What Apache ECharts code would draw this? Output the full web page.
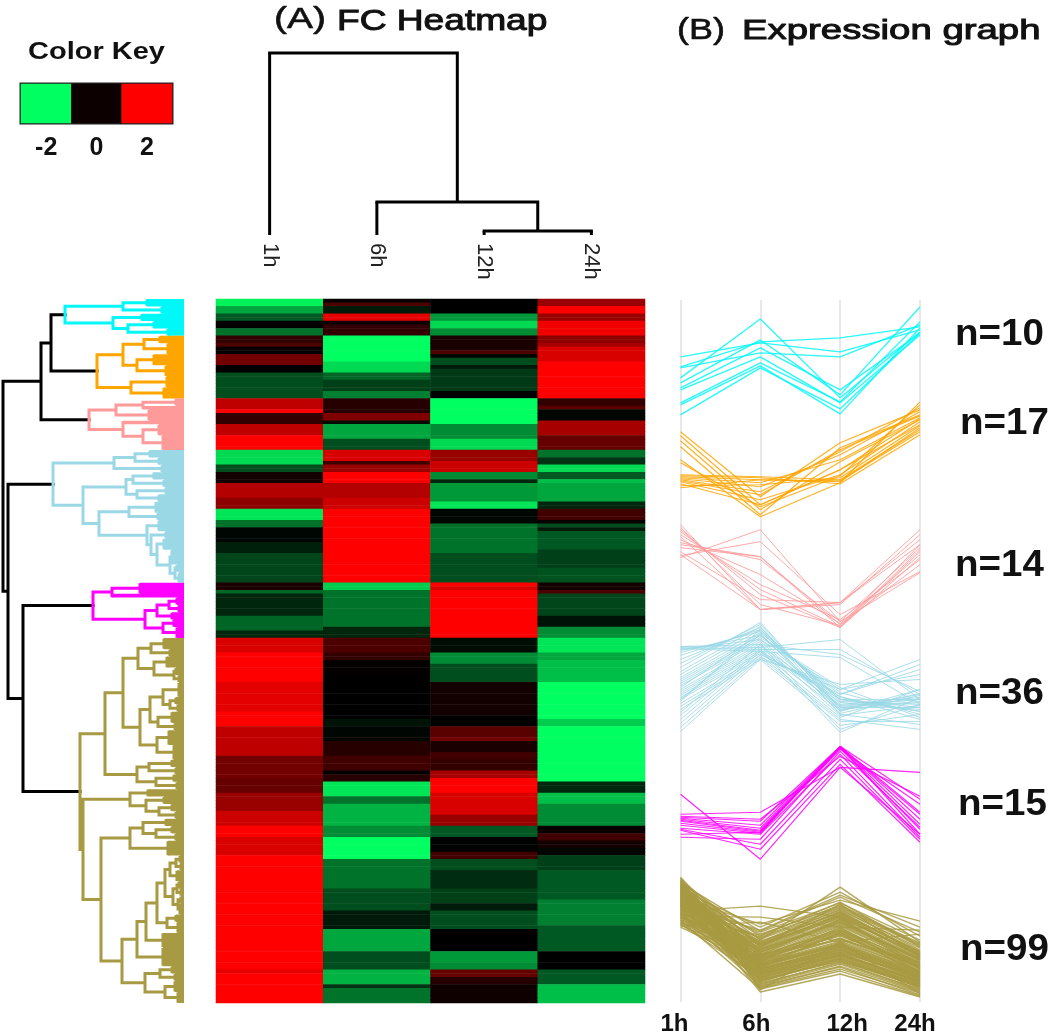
<!DOCTYPE html>
<html>
<head>
<meta charset="utf-8">
<title>FC Heatmap</title>
<script src="https://cdn.jsdelivr.net/npm/echarts@6/dist/echarts.min.js"></script>
<style>
    html, body { margin: 0; padding: 0; background: #fff; }
    #chart { width: 1050px; height: 1036px; }
</style>
</head>
<body>
<div id="chart"></div>
<script>
var timePoints = ['1h', '6h', '12h', '24h'];
var keyTicks = ['-2', '0', '2'];
var keyValues = [-2, 0.1, 2];
var clusterSizes = [10, 17, 14, 36, 15, 99];
var clusterColours = ['#00f8f8', '#ffa500', '#ff9a9a', '#9bd8e6', '#ff00ff', '#a89a42'];

// heatmap columns, top to bottom: [number of rows, log fold change]
var heat1h = [
    [2, -1.9], [2, -1.3], [2, -0.7], [2, 0], [2, -0.9],
    [2, 0.4], [1, 0.6], [2, 0.05], [3, 0.9], [2, 0], [7, -0.6],
    [3, 1.5], [1, 2], [3, 0.4], [3, 1.5], [4, 2],
    [4, -1.7], [2, -0.6], [3, 0.15], [4, 1.4], [3, 1.1], [3, -1.8], [2, -0.9], [4, -0.05], [3, -0.25], [8, -0.55],
    [2, 0.2], [1, -0.8], [6, -0.3], [4, -0.8], [2, -0.3],
    [4, 1.7], [8, 2], [8, 1.8], [4, 2], [8, 1.5], [6, 0.9], [4, 0.8], [5, 1.2], [4, 1.6], [3, 2], [5, 1.7], [31, 2], [1, 1.8], [8, 2]
];
var heat6h = [
    [1, 0.05], [1, 0.6], [2, -0.2], [2, 1.8], [1, 0.1], [3, 0.4],
    [7, -2], [3, -1.7], [2, -0.8], [3, -0.5], [2, -1],
    [4, 0.3], [2, 1], [1, -0.1], [4, -1.3], [3, -0.6],
    [3, 1.7], [1, 0.5], [2, 1.2], [3, 2], [4, 1.4], [3, 1.6], [20, 2],
    [2, -1.6], [10, -0.9], [3, -0.3],
    [4, 0.6], [2, 0.4], [4, 0.03], [12, 0], [2, -0.15], [4, -0.05], [4, 0.3], [4, 0.5], [1, 0], [2, 0.3],
    [4, -1.8], [2, -0.9], [6, -1.4], [3, -1.1], [6, -2], [8, -0.9], [6, -0.6], [5, -0.2], [6, -1.3], [5, -0.6], [4, -1.4], [1, -0.4], [4, -0.9]
];
var heat12h = [
    [4, 0], [2, -1.2], [2, -1.7], [2, -1.1],
    [4, 0.2], [1, 0.6], [1, -0.05], [2, -0.6], [1, -0.2], [6, -0.45], [2, -0.02],
    [7, -2], [4, -1.1], [3, -1.7],
    [3, 1.2], [3, 1.6], [2, -1.1], [1, -0.3], [5, -1.2], [2, -1.8], [4, -0.05], [8, -0.9], [8, -0.6],
    [1, 2], [1, 1.7], [13, 2],
    [4, -0.1], [3, -1.1], [5, -0.6], [9, 0.15], [3, 0], [3, 0.7], [1, 0.9], [3, 0.2], [2, 0.5], [3, 0.4], [2, 1.3], [4, 2], [6, 1.7], [3, 1.2],
    [3, -0.7], [4, -0.02], [2, 0.5], [3, -0.6], [5, -0.35], [4, -0.5], [2, -0.2], [5, -0.6], [6, 0], [3, -1.2], [2, -1.1], [2, 0.8], [2, 0.3], [5, 0.12]
];
var heat24h = [
    [2, 1.2], [2, 2], [2, 1.2], [4, 1.9],
    [2, 1.1], [1, 1.3], [4, 1.7], [10, 2],
    [2, 0.4], [1, 0.7], [3, -0.05], [4, 1.3], [4, 0.8],
    [2, -0.9], [2, -0.4], [2, -1.7], [2, -0.7], [1, -1.5], [5, -1.3], [2, -0.3], [3, 0.5], [1, 0.05], [1, -0.6], [1, -0.2], [5, -0.7], [5, -0.5], [4, -0.65],
    [2, 0.15], [1, 0.6], [6, -0.55], [3, -0.15], [3, -1.1],
    [4, -1.8], [2, -1.3], [6, -1.5], [10, -2], [2, -1.6], [15, -2], [3, -0.3], [3, -1.5], [6, -1.1], [2, 0.05], [2, 0.5], [2, 0.15], [2, -0.05],
    [4, -0.5], [8, -0.7], [7, -1], [7, -0.7], [5, 0], [4, -0.7], [5, -1.5]
];

// dendrograms: [height, child, child], [height, n] is a clump of n leaves, 1 is one leaf
var columnTree = [182, 1, [33, 1, [4, 1, 1]]];
var cyanTree = [119, [61, [37, 2], [22, 2]], [71, [42, 2], [56, [30, 2], [16, 2]]]];
var orangeTree = [87, [61, [40, [24, 2], [16, 3]], [47, [30, 3], [18, 3]]], [53, [17, 3], [20, 3]]];
var pinkTree = [95, [68, [41, [8, 2], 1], [35, 3]], [61, 1, [41, [25, 3], [21, 4]]]];
var blueTree = [131,
    [70, [49, [34, 2], [25, 2]], [22, 2]],
    [101,
        [58, [51, [30, 2], [20, 2]], [47, [18, 2], [25, 2]]],
        [85,
            [55, [28, 3], [26, 2]],
            [37, [25, 3], [33, [18, 2], [27, [20, 3], [14, [12, 4], [9, [7, 2], [5, [4, 2], 1]]]]]]
        ]
    ]
];
var magentaTree = [91, [72, [44, 3], 1], [39, [27, [15, [7, 2], [5, 2]], [12, 2]], [21, [10, 2], [7, 3]]]];
var oliveTree = [104,
    [79,
        [61,
            [46, [33, [20, 3], [14, 2]], [30, [17, 3], [10, [8, 2], [5, 2]]]],
            [44,
                [34, [21, [5, 4], [14, [8, 2], [6, 2]]], [26, [12, 3], [9, 2]]],
                [27, [15, 4], [10, 4]]
            ]
        ],
        [47, [35, [12, 2], [8, 2]], [28, [10, 2], [7, 2]]]
    ],
    [101,
        [54, [36, 2], [38, [20, 2], [25, [12, 2], [8, 2]]]],
        [83,
            [54, [41, [18, 2], [28, [12, 2], [8, 2]]], [16, 4]],
            [62,
                [47,
                    [38,
                        [27,
                            [19, [14, [8, [4, 2], [3, 2]], [7, 3]], [11, [7, [5, 2], [3, 2]], [6, [3, 2], [4, 3]]]],
                            [17, [8, 2], [6, 3]]
                        ],
                        [21, 4]
                    ],
                    [21, 5]
                ],
                [39, [24, [12, 2], [9, 2]], [19, [9, 3], [6, 3]]]
            ]
        ]
    ]
];
var clusterTrees = [cyanTree, orangeTree, pinkTree, blueTree, magentaTree, oliveTree];
var rowTree = [181, [143, [133, cyanTree, orangeTree], pinkTree], [176, blueTree, [161, magentaTree, oliveTree]]];

// expression levels per cluster: one list per time point, one entry per gene
var cyanLevels = [
    [646, 636, 635, 625, 620, 615, 613, 600, 598, 588],
    [660, 661, 650, 684, 663, 655, 646, 640, 637, 635],
    [651, 665, 646, 605, 608, 613, 600, 601, 589, 594],
    [673, 676, 678, 671, 696, 670, 668, 681, 675, 670]
];
var orangeLevels = [
    [571, 567, 562, 556, 543, 540, 528, 527, 526, 525, 524, 523, 522, 521, 519, 517, 515],
    [506, 498, 493, 488, 486, 496, 526, 525, 523, 520, 516, 511, 508, 503, 498, 518, 523],
    [560, 533, 541, 555, 520, 527, 523, 519, 521, 543, 548, 551, 553, 528, 533, 525, 522],
    [593, 578, 583, 588, 601, 598, 573, 568, 575, 585, 591, 595, 587, 581, 584, 577, 571]
];
var pinkLevels = [
    [478, 475, 473, 471, 468, 466, 463, 460, 458, 455, 451, 447, 445, 448],
    [393, 398, 408, 413, 418, 393, 428, 443, 446, 446, 403, 461, 473, 393],
    [400, 377, 375, 376, 383, 400, 379, 381, 378, 375, 400, 388, 381, 398],
    [473, 458, 451, 453, 443, 463, 448, 455, 438, 445, 458, 431, 430, 468]
];
var blueLevels = [
    [356, 356, 355, 354, 353, 352, 350, 347, 343, 339, 335, 331, 328, 325, 323, 321, 319, 317,
     315, 313, 311, 309, 307, 305, 303, 301, 299, 296, 293, 290, 287, 283, 279, 275, 271, 303],
    [358, 355, 353, 351, 363, 367, 371, 373, 375, 378, 380, 376, 373, 370, 367, 365, 363, 361,
     369, 359, 357, 355, 353, 351, 349, 373, 347, 345, 343, 358, 353, 351, 348, 345, 343, 368],
    [348, 363, 353, 345, 313, 308, 303, 301, 298, 295, 293, 291, 303, 305, 310, 315, 297, 293,
     289, 287, 300, 296, 292, 303, 306, 288, 283, 281, 277, 273, 270, 285, 308, 313, 318, 295],
    [311, 303, 308, 298, 343, 333, 303, 298, 305, 301, 308, 313, 295, 291, 288, 285, 303, 300,
     307, 297, 293, 303, 309, 291, 283, 278, 273, 281, 288, 298, 305, 313, 338, 328, 323, 295]
];
var magentaLevels = [
    [208, 188, 186, 185, 184, 183, 182, 181, 179, 177, 174, 173, 172, 168, 165],
    [143, 190, 183, 181, 177, 174, 172, 171, 170, 169, 168, 158, 153, 170, 163],
    [235, 235, 246, 256, 256, 256, 255, 254, 255, 256, 248, 243, 238, 253, 251],
    [168, 230, 206, 203, 190, 183, 178, 173, 188, 168, 165, 163, 160, 198, 175]
];
var oliveLevels = [
    [125, 124, 123, 122, 122, 121, 120, 120, 119, 119,
     118, 118, 117, 117, 116, 116, 115, 115, 115, 114,
     114, 113, 113, 112, 112, 112, 111, 111, 110, 110,
     110, 109, 109, 108, 108, 108, 107, 107, 106, 106,
     105, 105, 105, 104, 104, 103, 103, 103, 102, 102,
     101, 101, 100, 100, 100, 99, 99, 98, 98, 97,
     97, 97, 96, 96, 95, 95, 94, 94, 93, 93,
     92, 92, 91, 91, 90, 90, 89, 89, 88, 88,
     87, 87, 86, 86, 85, 85, 84, 84, 83, 82,
     82, 81, 80, 79, 79, 78, 77, 76, 75],
    [40, 12, 55, 30, 47, 62, 20, 35, 71, 44,
     28, 58, 37, 15, 50, 66, 33, 42, 25, 60,
     48, 18, 38, 75, 52, 31, 45, 22, 57, 36,
     68, 41, 27, 53, 10, 46, 34, 63, 29, 49,
     39, 17, 56, 32, 78, 43, 24, 59, 37, 70,
     21, 51, 35, 64, 26, 47, 14, 54, 40, 30,
     61, 23, 44, 72, 33, 50, 19, 57, 38, 28,
     65, 42, 96, 34, 48, 25, 55, 31, 16, 60,
     36, 45, 85, 27, 52, 41, 22, 67, 39, 13,
     53, 33, 46, 29, 58, 24, 43, 80, 37],
    [75, 60, 98, 52, 83, 115, 44, 70, 105, 66,
     48, 90, 58, 36, 78, 100, 55, 72, 46, 93,
     62, 40, 68, 110, 80, 50, 74, 43, 88, 57,
     96, 64, 47, 85, 28, 76, 53, 92, 49, 81,
     61, 38, 87, 54, 102, 69, 45, 91, 59, 99,
     42, 79, 56, 94, 47, 73, 33, 86, 63, 51,
     89, 41, 71, 107, 55, 82, 39, 84, 60, 48,
     95, 67, 85, 52, 77, 44, 88, 53, 35, 90,
     57, 70, 75, 46, 83, 64, 41, 97, 58, 31,
     80, 50, 72, 49, 86, 43, 68, 60, 56],
    [30, 8, 45, 22, 38, 60, 14, 28, 70, 36,
     20, 48, 26, 10, 42, 55, 25, 34, 18, 52,
     40, 12, 30, 66, 44, 24, 37, 16, 50, 28,
     58, 33, 21, 46, 5, 39, 27, 54, 19, 41,
     32, 11, 47, 23, 81, 35, 17, 49, 29, 62,
     15, 43, 26, 56, 20, 38, 9, 45, 31, 24,
     51, 16, 36, 75, 27, 42, 13, 48, 30, 22,
     57, 34, 33, 25, 40, 18, 46, 23, 7, 50,
     29, 37, 72, 20, 44, 35, 15, 59, 31, 6,
     43, 26, 39, 21, 47, 17, 34, 68, 28]
];
var clusterLevels = [cyanLevels, orangeLevels, pinkLevels, blueLevels, magentaLevels, oliveLevels];

var FONT = '"Liberation Sans", Arial, sans-serif';
var rowCount = 191;

/**
 * 把一个树节点拆成线段，branches 和 leaves 按颜色存放
 */
function walkTree(node, start, colour, segs) {
    if (node === 1) {
        return {pos: start + 0.5, h: 0, end: start + 1, leaf: true};
    }
    var idx = clusterTrees.indexOf(node);
    if (idx >= 0) {
        colour = clusterColours[idx];
    }
    if (!segs.branches[colour]) {
        segs.branches[colour] = [];
        segs.leaves[colour] = [];
    }
    var branches = segs.branches[colour];
    var leaves = segs.leaves[colour];
    var h = node[0];
    if (node.length === 2) {
        var k = node[1];
        branches.push([h, start + 0.5], [h, start + k - 0.5], [null, null]);
        for (var i = 0; i < k; i++) {
            leaves.push([h, start + i + 0.5], [0, start + i + 0.5], [null, null]);
        }
        return {pos: start + k / 2, h: h, end: start + k};
    }
    var a = walkTree(node[1], start, colour, segs);
    var b = walkTree(node[2], a.end, colour, segs);
    branches.push([h, a.pos], [h, b.pos], [null, null]);
    [a, b].forEach(function (c) {
        (c.leaf ? leaves : branches).push([h, c.pos], [c.h, c.pos], [null, null]);
    });
    return {pos: (a.pos + b.pos) / 2, h: h, end: b.end};
}

function treeSeries(tree, xAxisIndex, yAxisIndex, flip, leafWidth) {
    var segs = {branches: {}, leaves: {}};
    var list = [];
    walkTree(tree, 0, '#000000', segs);
    function add(data, colour, width, cap) {
        if (!data.length) {
            return;
        }
        list.push({
            type: 'line',
            xAxisIndex: xAxisIndex,
            yAxisIndex: yAxisIndex,
            showSymbol: false,
            silent: true,
            clip: false,
            data: flip ? data.map(function (p) { return [p[1], p[0]]; }) : data,
            lineStyle: {color: colour, width: width, cap: cap, join: 'miter'}
        });
    }
    Object.keys(segs.leaves).forEach(function (colour) {
        add(segs.leaves[colour], colour, leafWidth, 'butt');
    });
    Object.keys(segs.branches).forEach(function (colour) {
        add(segs.branches[colour], colour, 3, 'square');
    });
    return list;
}

function expandBands(bands) {
    var out = [];
    bands.forEach(function (b) {
        for (var i = 0; i < b[0]; i++) {
            out.push(b[1]);
        }
    });
    return out;
}

// 热图数据
var heatData = [];
[heat1h, heat6h, heat12h, heat24h].forEach(function (bands, col) {
    expandBands(bands).forEach(function (v, row) {
        heatData.push([col, row, v]);
    });
});
var rowNames = [];
for (var r = 0; r < rowCount; r++) {
    rowNames.push(String(r));
}

var series = [
    {
        type: 'heatmap',
        xAxisIndex: 0,
        yAxisIndex: 0,
        silent: true,
        data: keyValues.map(function (v, i) { return [i, 0, v]; })
    },
    {
        type: 'heatmap',
        xAxisIndex: 3,
        yAxisIndex: 2,
        silent: true,
        data: heatData
    }
];
series = series.concat(treeSeries(columnTree, 1, 1, true, 3));
series = series.concat(treeSeries(rowTree, 4, 3, false, 3.7));

// 表达量折线，每个基因一条
var clusterLineWidths = [1.3, 1.2, 1, 1, 1.2, 1.4];
clusterLevels.forEach(function (levels, c) {
    for (var g = 0; g < clusterSizes[c]; g++) {
        series.push({
            type: 'line',
            xAxisIndex: 5,
            yAxisIndex: 4,
            showSymbol: false,
            silent: true,
            data: levels.map(function (col) { return col[g]; }),
            lineStyle: {color: clusterColours[c], width: clusterLineWidths[c], opacity: 0.85}
        });
    }
});

function headingText(text, x, y, size, weight, scaleX, strokeWidth) {
    return {
        type: 'text',
        x: x,
        y: y,
        scaleX: scaleX,
        silent: true,
        style: {
            text: text,
            font: weight + ' ' + size + 'px ' + FONT,
            fill: '#111',
            stroke: strokeWidth ? '#111' : null,
            lineWidth: strokeWidth || 0,
            verticalAlign: 'middle'
        }
    };
}

var countLabelPos = [[955, 335], [960, 424], [955, 566], [955, 694], [958, 805], [960, 950]];

var graphics = [
    headingText('(A)', 274, 20, 30, 'normal', 1.3, 0.6),
    headingText('FC Heatmap', 337, 22, 29, 'normal', 1.28, 1),
    headingText('(B)', 677, 31, 30, 'normal', 1.2, 0.6),
    headingText('Expression graph', 742, 31, 28, 'normal', 1.37, 1),
    headingText('Color Key', 28, 53, 23, 'bold', 1.26, 0)
];
clusterSizes.forEach(function (n, i) {
    graphics.push(headingText('n=' + n, countLabelPos[i][0], countLabelPos[i][1], 36, 'bold', 1.07, 0));
});

// 下方时间标签相对刻度略有偏移
var timeLabelPadding = [[0, 12, 0, 0], [0, 8, 0, 0], [0, 0, 0, 14], [0, 10, 0, 0]];
var hidden = {show: false};

var option = {
    backgroundColor: '#fff',
    animation: false,
    textStyle: {fontFamily: FONT},
    graphic: graphics,
    visualMap: {
        type: 'continuous',
        show: false,
        seriesIndex: [0, 1],
        dimension: 2,
        min: -2,
        max: 2,
        inRange: {color: ['#00ff60', '#000000', '#ff0000']}
    },
    grid: [
        {left: 21, top: 84, width: 151, height: 39, show: true, borderColor: '#222', borderWidth: 3},
        {left: 216, top: 53, width: 429, height: 182},
        {left: 216, top: 299, width: 429, height: 704},
        {left: 0, top: 299, width: 184, height: 704},
        {left: 680.5, top: 300, width: 239.5, height: 703}
    ],
    xAxis: [
        {
            type: 'category', gridIndex: 0, data: keyTicks,
            axisLine: hidden, axisTick: hidden,
            axisLabel: {margin: 13, fontSize: 25, fontWeight: 'bold', color: '#111', fontFamily: FONT}
        },
        {type: 'value', gridIndex: 1, min: 0, max: 4, show: false},
        {
            type: 'category', gridIndex: 1, position: 'bottom', data: timePoints,
            axisLine: hidden, axisTick: hidden,
            axisLabel: {rotate: -90, margin: 8, fontSize: 22, color: '#222', fontFamily: FONT}
        },
        {type: 'category', gridIndex: 2, data: timePoints, show: false},
        {type: 'value', gridIndex: 3, min: 0, max: 184, inverse: true, show: false},
        {
            type: 'category', gridIndex: 4, boundaryGap: false,
            data: timePoints.map(function (t, i) {
                return {value: t, textStyle: {padding: timeLabelPadding[i]}};
            }),
            axisLine: hidden, axisTick: hidden,
            splitLine: {show: true, lineStyle: {color: '#e8e8e8', width: 2}},
            axisLabel: {margin: 10, fontSize: 24, fontWeight: 'bold', color: '#111', fontFamily: FONT, showMinLabel: true, showMaxLabel: true}
        }
    ],
    yAxis: [
        {type: 'category', gridIndex: 0, data: [''], show: false},
        {type: 'value', gridIndex: 1, min: 0, max: 182, show: false},
        {type: 'category', gridIndex: 2, data: rowNames, inverse: true, show: false},
        {type: 'value', gridIndex: 3, min: 0, max: rowCount, inverse: true, show: false},
        {type: 'value', gridIndex: 4, min: 0, max: 703, show: false}
    ],
    series: series
};

var myChart = echarts.init(document.getElementById('chart'), null, {renderer: 'canvas'});
myChart.setOption(option);
</script>
</body>
</html>
